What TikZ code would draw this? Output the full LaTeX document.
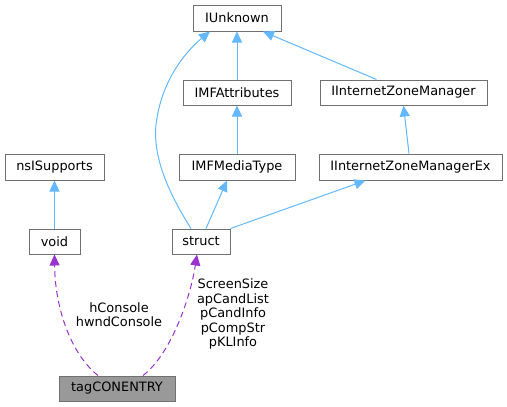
\documentclass[tikz,border=0pt]{standalone}
\usepackage{fontspec}
\setmainfont{DejaVu Sans}
\usetikzlibrary{arrows.meta}
\definecolor{inh}{HTML}{63B8FF}
\definecolor{use}{HTML}{9A32CD}
\definecolor{bord}{HTML}{707070}
\definecolor{hl}{HTML}{999999}
\begin{document}
\begin{tikzpicture}[x=1pt,y=-1pt,
  box/.style={draw=bord,line width=1pt,fill=white,rectangle,inner sep=0pt,
    font=\fontsize{12.9}{14.5}\selectfont},
  inhedge/.style={draw=inh,line width=1pt,-{Triangle[length=11pt,width=10pt]}},
  useedge/.style={draw=use,line width=1pt,dash pattern=on 6pt off 4pt,-{Triangle[length=11pt,width=10pt]}},
  lbl/.style={align=center,inner sep=0pt,font=\fontsize{12.9}{14.5}\selectfont}]
\useasboundingbox (0,0) rectangle (507,407);
\node[box,minimum width=88pt,minimum height=26pt] (iunk) at (237,18) {IUnknown};
\node[box,minimum width=108pt,minimum height=25pt] (imfa) at (237,92.5) {IMFAttributes};
\node[box,minimum width=167pt,minimum height=25pt] (izm) at (403.5,92.5) {IInternetZoneManager};
\node[box,minimum width=116pt,minimum height=26pt] (imft) at (237,167) {IMFMediaType};
\node[box,minimum width=183pt,minimum height=26pt] (izmx) at (410.5,167) {IInternetZoneManagerEx};
\node[box,minimum width=99pt,minimum height=26pt] (nsis) at (54.5,167) {nsISupports};
\node[box,minimum width=51pt,minimum height=25pt] (void) at (54.5,241.5) {void};
\node[box,minimum width=58pt,minimum height=25pt] (struct) at (201,241.5) {struct};
\node[box,fill=hl,minimum width=116pt,minimum height=25pt] (tag) at (117,388.5) {tagCONENTRY};
% inheritance
\draw[inhedge] (void.north) -- (nsis.south);
\draw[inhedge] (imfa.north) -- (iunk.south);
\draw[inhedge] (imft.north) -- (imfa.south);
\draw[inhedge] ([xshift=-27pt]izm.north) -- ([xshift=26pt]iunk.south);
\draw[inhedge] ([xshift=-1.5pt]izmx.north) -- (izm.south);
\draw[inhedge] ([xshift=5pt]struct.north) -- ([xshift=-10pt]imft.south);
\draw[inhedge] (struct.north east) -- ([xshift=-45pt]izmx.south);
\draw[inhedge] ([xshift=-10pt]struct.north) .. controls (170,195) and (150,155) .. (157,118)
   .. controls (163,80) and (185,52) .. ([xshift=-27pt]iunk.south);
% usage
\draw[useedge] ([xshift=-19pt]tag.north) .. controls (72,355) and (55,310) .. (void.south);
\draw[useedge] ([xshift=26pt]tag.north) .. controls (170,355) and (190,300) .. ([xshift=-4pt]struct.south);
\node[lbl] (l1) at (119,314.5) {hConsole\\hwndConsole};
\node[lbl] (l2) at (233,314) {ScreenSize\\apCandList\\pCandInfo\\pCompStr\\pKLInfo};
\end{tikzpicture}
\end{document}
